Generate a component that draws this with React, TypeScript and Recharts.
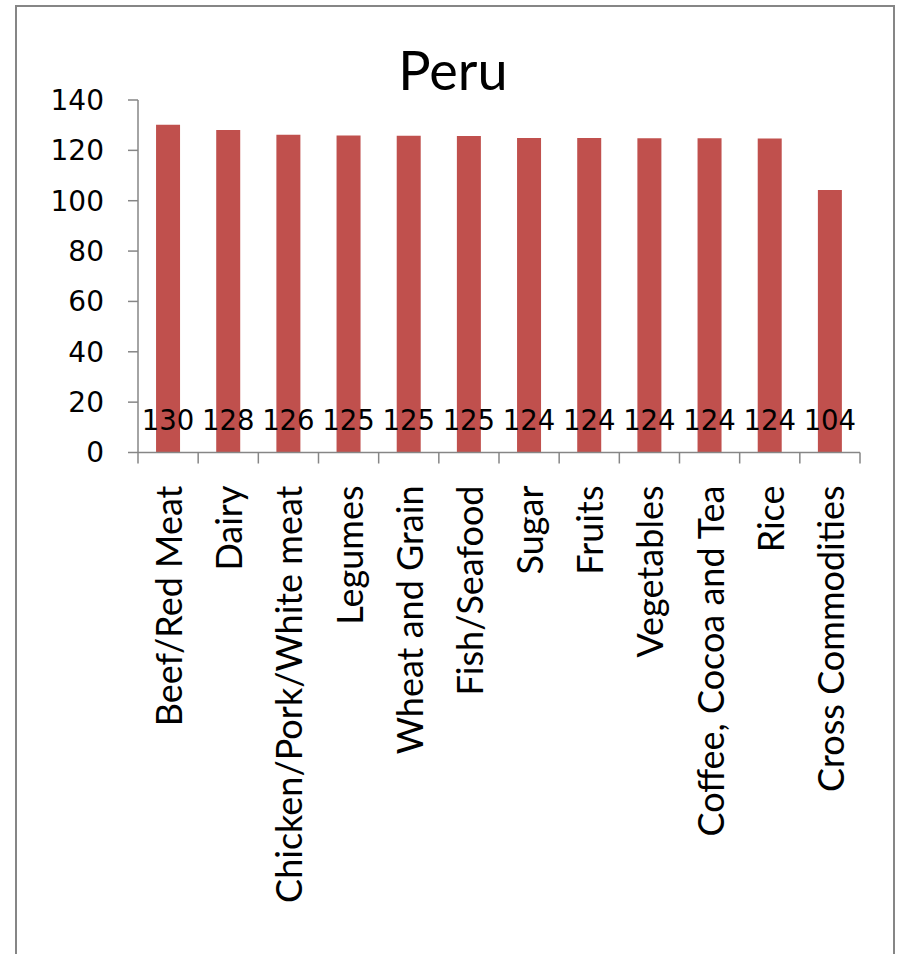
import React from "react";
import { BarChart, Bar, XAxis, YAxis, LabelList } from "recharts";

const title = "Peru";

const categories = [
  "Beef/Red Meat",
  "Dairy",
  "Chicken/Pork/White meat",
  "Legumes",
  "Wheat and Grain",
  "Fish/Seafood",
  "Sugar",
  "Fruits",
  "Vegetables",
  "Coffee, Cocoa and Tea",
  "Rice",
  "Cross Commodities",
];

// bar heights; the printed labels are the truncated values
const values = [130.2, 128.1, 126.2, 125.9, 125.8, 125.7, 124.9, 124.9, 124.8, 124.8, 124.7, 104.3];

const yTicks = [0, 20, 40, 60, 80, 100, 120, 140];

const W = 903;
const H = 954;
const MARGIN = { top: 100, right: 43, left: 0, bottom: 0 };
const Y_W = 138;
const X_H = 501.5;
const BAND = (W - MARGIN.right - MARGIN.left - Y_W) / categories.length;

const BAR = "#C0504D";
const AXIS = "#868686";
const FONT = "Lato, 'Open Sans', sans-serif";
const NUM_FONT = "'DejaVu Sans', sans-serif";

const data = categories.map((name, i) => ({ name, value: values[i] }));

function XTick(props: any) {
  const { x, y, payload, index } = props;
  const half = BAND / 2;
  const ty = y + 33;
  return (
    <g>
      <line x1={x - half} y1={y} x2={x - half} y2={y + 11} stroke={AXIS} strokeWidth={1.5} />
      {index === categories.length - 1 && (
        <line x1={x + half} y1={y} x2={x + half} y2={y + 11} stroke={AXIS} strokeWidth={1.5} />
      )}
      <text
        x={x}
        y={ty}
        transform={`rotate(-90 ${x} ${ty})`}
        textAnchor="end"
        dominantBaseline="central"
        fontFamily={FONT}
        fontSize={36}
        fill="#000"
      >
        {payload.value}
      </text>
    </g>
  );
}

function ValueLabel(props: any) {
  const { x, y, width, height, value } = props;
  return (
    <text
      x={x + width / 2}
      y={y + height - 33}
      textAnchor="middle"
      dominantBaseline="central"
      fontFamily={NUM_FONT}
      fontSize={27.5}
      fill="#000"
    >
      {Math.floor(value)}
    </text>
  );
}

export default function App() {
  return (
    <div style={{ position: "absolute", left: 0, top: 0, width: W, height: H, background: "#fff", overflow: "hidden" }}>
      <div
        style={{
          position: "absolute",
          left: 15,
          top: 5,
          width: 876,
          height: 1000,
          border: `2px solid ${AXIS}`,
          borderBottom: "none",
        }}
      />
      <div style={{ position: "absolute", left: 0, top: 0 }}>
        <BarChart width={W} height={H} data={data} margin={MARGIN} barCategoryGap="30%">
          <text x={453} y={90} textAnchor="middle" fontFamily={FONT} fontSize={54} fill="#000">
            {title}
          </text>
          <XAxis
            dataKey="name"
            interval={0}
            height={X_H}
            tickSize={0}
            tickMargin={0}
            tickLine={false}
            axisLine={{ stroke: AXIS, strokeWidth: 1.5 }}
            tick={<XTick />}
          />
          <YAxis
            width={Y_W}
            domain={[0, 140]}
            ticks={yTicks}
            tickSize={10}
            tickMargin={24}
            tickLine={{ stroke: AXIS, strokeWidth: 1.5 }}
            axisLine={{ stroke: AXIS, strokeWidth: 1.5 }}
            tick={{ fill: "#000", fontSize: 28, fontFamily: NUM_FONT }}
          />
          <Bar dataKey="value" fill={BAR} isAnimationActive={false}>
            <LabelList dataKey="value" content={<ValueLabel />} />
          </Bar>
        </BarChart>
      </div>
    </div>
  );
}
